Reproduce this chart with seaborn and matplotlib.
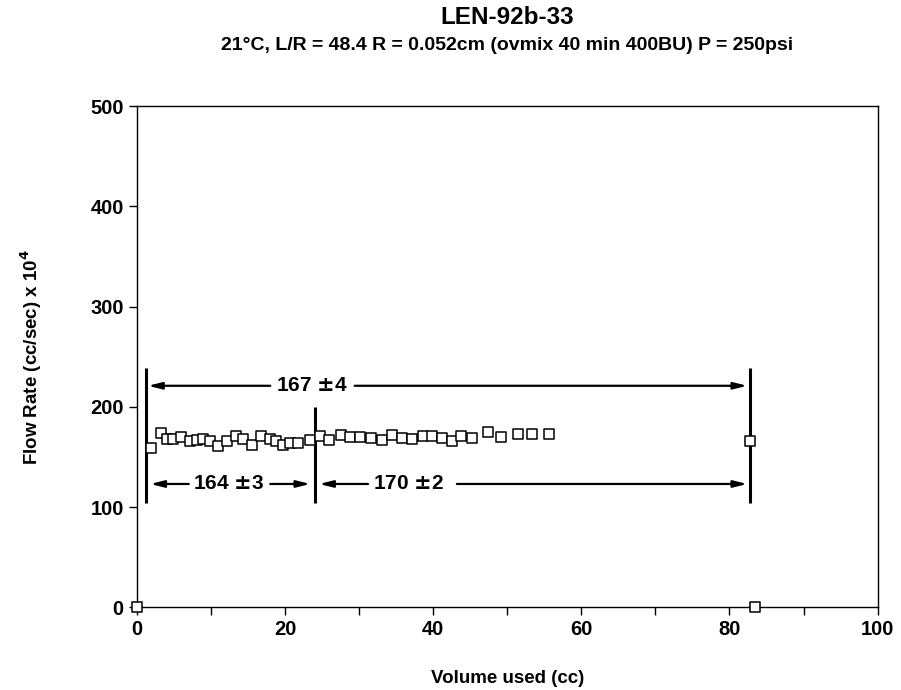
import numpy as np
import pandas as pd
import seaborn as sns
import matplotlib.pyplot as plt
from matplotlib.ticker import MultipleLocator

# flow rate readings
vol_early = [1.9, 3.2, 4.1, 4.9, 6.0, 7.2, 8.1, 8.9, 9.9, 11.0, 12.1, 13.4, 14.3,
             15.5, 16.8, 17.9, 18.8, 19.7, 20.7, 21.8, 23.3]
rate_early = [159, 174, 168, 168, 170, 166, 167, 168, 166, 161, 166, 171, 168,
              162, 171, 168, 166, 162, 164, 164, 167]
vol_late = [24.7, 25.9, 27.5, 28.7, 30.1, 31.6, 33.1, 34.4, 35.8, 37.1, 38.6, 39.8,
            41.2, 42.5, 43.7, 45.3, 47.4, 49.1, 51.4, 53.4, 55.7]
rate_late = [171, 167, 172, 170, 170, 169, 167, 172, 169, 168, 171, 171,
             169, 166, 171, 169, 175, 170, 173, 173, 173]
vol_extra = [0.0, 82.8, 83.5]
rate_extra = [0, 166, 0]

# averaging intervals: start, end, label
int_start = [1.2, 1.2, 24.0]
int_end = [82.8, 24.0, 82.8]
int_label = ["167 $\\pm$4", "164 $\\pm$3", "170 $\\pm$2"]

df = pd.DataFrame({
    "vol": vol_early + vol_late + vol_extra,
    "rate": rate_early + rate_late + rate_extra,
})

sns.set_style("white")
plt.rcParams["font.family"] = ["Liberation Sans", "DejaVu Sans"]
plt.rcParams["font.weight"] = "bold"
plt.rcParams["text.color"] = "black"
plt.rcParams["axes.labelcolor"] = "black"
plt.rcParams["xtick.color"] = "black"
plt.rcParams["ytick.color"] = "black"

fig = plt.figure(figsize=(9.01, 6.90), dpi=100)
ax = fig.add_axes([0.152, 0.12, 0.822, 0.726])

sns.scatterplot(data=df, x="vol", y="rate", ax=ax, marker="s", s=42,
                facecolor="white", edgecolor="black", linewidth=1.1,
                clip_on=False, zorder=5)

ax.set_xlim(0, 100)
ax.set_ylim(0, 500)
ax.xaxis.set_major_locator(MultipleLocator(20))
ax.xaxis.set_minor_locator(MultipleLocator(10))
ax.yaxis.set_major_locator(MultipleLocator(100))
ax.tick_params(axis="both", which="both", direction="out", length=6, width=1,
               color="black", labelcolor="black", labelsize=14.5, bottom=True, left=True)
for lab in ax.get_xticklabels() + ax.get_yticklabels():
    lab.set_fontweight("bold")
for sp in ax.spines.values():
    sp.set_color("black")
    sp.set_linewidth(1.0)

# vertical interval markers
ax.vlines([int_start[0], int_end[0]], 104, 239, color="black", lw=2.2, zorder=4)
ax.vlines(int_start[2], 104, 200, color="black", lw=2.2, zorder=4)

arrow = dict(arrowstyle="-|>,head_length=0.8,head_width=0.2", color="black",
             lw=1.6, shrinkA=0, shrinkB=0)

# top interval 167 +- 4
ax.text(23.6, 221, int_label[0], ha="center", va="center", fontsize=15, fontweight="bold")
ax.annotate("", xy=(int_start[0] + 0.3, 221), xytext=(18.0, 221), arrowprops=arrow)
ax.annotate("", xy=(int_end[0] - 0.4, 221), xytext=(29.4, 221), arrowprops=arrow)

# lower intervals
ax.text(12.4, 123, int_label[1], ha="center", va="center", fontsize=15, fontweight="bold")
ax.annotate("", xy=(int_start[1] + 0.6, 123), xytext=(7.0, 123), arrowprops=arrow)
ax.annotate("", xy=(int_end[1] - 0.6, 123), xytext=(18.0, 123), arrowprops=arrow)

ax.text(36.7, 123, int_label[2], ha="center", va="center", fontsize=15, fontweight="bold")
ax.annotate("", xy=(int_start[2] + 0.6, 123), xytext=(31.2, 123), arrowprops=arrow)
ax.annotate("", xy=(int_end[2] - 0.4, 123), xytext=(43.2, 123), arrowprops=arrow)

ax.set_xlabel("Volume used (cc)", fontsize=13.5, fontweight="bold", labelpad=22)
ax.set_ylabel("Flow Rate (cc/sec) x 10$^{4}$", fontsize=13.5, fontweight="bold", labelpad=33)

fig.text(0.563, 0.974, "LEN-92b-33", ha="center", va="center", fontsize=17.5, fontweight="bold")
fig.text(0.563, 0.934, "21°C, L/R = 48.4 R = 0.052cm (ovmix 40 min 400BU) P = 250psi",
         ha="center", va="center", fontsize=14, fontweight="bold")

fig.savefig("out.png", dpi=100)
